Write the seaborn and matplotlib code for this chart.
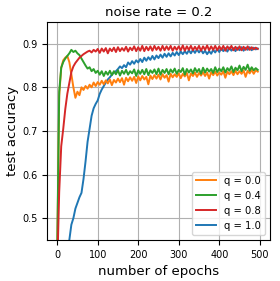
import matplotlib
import pandas as pd
import matplotlib.pyplot as plt
import seaborn as sns

matplotlib.use('Agg')

# epochs sampled every 5 epochs
epochs = list(range(0, 500, 5))

acc_q00 = [0.40, 0.78, 0.845, 0.862, 0.868, 0.872, 0.858, 0.83, 0.80, 0.776,
           0.79, 0.782, 0.80, 0.794, 0.803, 0.797, 0.806, 0.80, 0.811, 0.803,
           0.812, 0.806, 0.815, 0.807, 0.816, 0.809, 0.818, 0.805, 0.817, 0.811,
           0.82, 0.812, 0.821, 0.806, 0.822, 0.814, 0.823, 0.815, 0.824, 0.81,
           0.825, 0.816, 0.826, 0.818, 0.824, 0.807, 0.827, 0.819, 0.828, 0.82,
           0.829, 0.818, 0.83, 0.822, 0.828, 0.813, 0.831, 0.823, 0.83, 0.824,
           0.832, 0.821, 0.831, 0.825, 0.833, 0.816, 0.832, 0.826, 0.834, 0.824,
           0.833, 0.827, 0.835, 0.826, 0.834, 0.82, 0.835, 0.828, 0.836, 0.827,
           0.834, 0.829, 0.837, 0.822, 0.836, 0.83, 0.837, 0.828, 0.838, 0.83,
           0.837, 0.831, 0.839, 0.824, 0.838, 0.832, 0.84, 0.831, 0.839, 0.836]

acc_q04 = [0.42, 0.79, 0.845, 0.858, 0.866, 0.872, 0.878, 0.886, 0.881, 0.884,
           0.878, 0.874, 0.866, 0.858, 0.85, 0.843, 0.846, 0.837, 0.842, 0.833,
           0.838, 0.829, 0.837, 0.826, 0.836, 0.829, 0.838, 0.828, 0.837, 0.83,
           0.839, 0.827, 0.838, 0.831, 0.84, 0.829, 0.837, 0.832, 0.841, 0.826,
           0.839, 0.831, 0.84, 0.83, 0.842, 0.828, 0.839, 0.833, 0.841, 0.83,
           0.843, 0.829, 0.84, 0.833, 0.842, 0.83, 0.841, 0.834, 0.843, 0.831,
           0.84, 0.835, 0.844, 0.829, 0.842, 0.834, 0.841, 0.832, 0.844, 0.835,
           0.842, 0.831, 0.845, 0.834, 0.843, 0.836, 0.842, 0.833, 0.846, 0.835,
           0.843, 0.837, 0.846, 0.834, 0.844, 0.838, 0.848, 0.835, 0.845, 0.839,
           0.85, 0.837, 0.847, 0.84, 0.852, 0.838, 0.846, 0.839, 0.844, 0.84]

acc_q08 = [0.38, 0.56, 0.665, 0.705, 0.75, 0.785, 0.81, 0.835, 0.848, 0.856,
           0.862, 0.868, 0.872, 0.876, 0.879, 0.882, 0.884, 0.88, 0.886, 0.882,
           0.888, 0.879, 0.889, 0.882, 0.89, 0.878, 0.889, 0.883, 0.891, 0.881,
           0.892, 0.883, 0.89, 0.884, 0.893, 0.882, 0.891, 0.885, 0.894, 0.883,
           0.892, 0.884, 0.895, 0.883, 0.893, 0.885, 0.894, 0.884, 0.895, 0.886,
           0.893, 0.884, 0.895, 0.885, 0.894, 0.886, 0.895, 0.884, 0.893, 0.886,
           0.894, 0.885, 0.896, 0.884, 0.894, 0.886, 0.895, 0.885, 0.893, 0.886,
           0.895, 0.884, 0.894, 0.886, 0.896, 0.885, 0.894, 0.886, 0.895, 0.885,
           0.894, 0.886, 0.895, 0.884, 0.894, 0.887, 0.895, 0.885, 0.893, 0.886,
           0.894, 0.885, 0.893, 0.886, 0.894, 0.886, 0.892, 0.887, 0.891, 0.888]

acc_q10 = [0.30, 0.31, 0.32, 0.34, 0.36, 0.40, 0.45, 0.485, 0.50, 0.522,
           0.535, 0.548, 0.558, 0.59, 0.63, 0.675, 0.705, 0.735, 0.752, 0.762,
           0.77, 0.785, 0.795, 0.803, 0.811, 0.818, 0.823, 0.829, 0.834, 0.837,
           0.842, 0.848, 0.844, 0.851, 0.846, 0.857, 0.852, 0.86, 0.854, 0.862,
           0.857, 0.865, 0.858, 0.868, 0.861, 0.869, 0.863, 0.872, 0.864, 0.873,
           0.867, 0.875, 0.868, 0.877, 0.87, 0.878, 0.871, 0.879, 0.873, 0.881,
           0.874, 0.882, 0.876, 0.883, 0.877, 0.885, 0.878, 0.886, 0.879, 0.887,
           0.88, 0.886, 0.878, 0.884, 0.876, 0.883, 0.877, 0.886, 0.88, 0.888,
           0.881, 0.889, 0.883, 0.89, 0.882, 0.891, 0.884, 0.89, 0.883, 0.891,
           0.885, 0.892, 0.884, 0.891, 0.886, 0.892, 0.885, 0.891, 0.887, 0.889]

# (label, values, colour) in drawing order
series = [
    ('q = 1.0', acc_q10, 'tab:blue'),
    ('q = 0.0', acc_q00, 'tab:orange'),
    ('q = 0.4', acc_q04, 'tab:green'),
    ('q = 0.8', acc_q08, 'tab:red'),
]
legend_order = ['q = 0.0', 'q = 0.4', 'q = 0.8', 'q = 1.0']

fig = plt.figure(figsize=(2.8, 2.81), dpi=100)
ax = fig.add_axes([0.168, 0.146, 0.796, 0.776])

for label, values, color in series:
    df = pd.DataFrame({'epoch': epochs, 'acc': values})
    sns.lineplot(data=df, x='epoch', y='acc', ax=ax, color=color,
                 linewidth=1.4, label=label, estimator=None)

ax.set_xlim(-25, 525)
ax.set_ylim(0.45, 0.95)
ax.set_xticks([0, 100, 200, 300, 400, 500])
ax.set_yticks([0.5, 0.6, 0.7, 0.8, 0.9])
ax.grid(True, color='#b0b0b0', linewidth=0.8)
ax.tick_params(labelsize=7)
ax.set_xlabel('number of epochs', fontsize=9.5)
ax.set_ylabel('test accuracy', fontsize=9.5, labelpad=2)
ax.set_title('noise rate = 0.2', fontsize=9.5, pad=4)

handles, labels = ax.get_legend_handles_labels()
lookup = dict(zip(labels, handles))
ax.legend([lookup[l] for l in legend_order], legend_order, loc='lower right',
          fontsize=7.2)

plt.savefig('out.png', dpi=100)
plt.close()
